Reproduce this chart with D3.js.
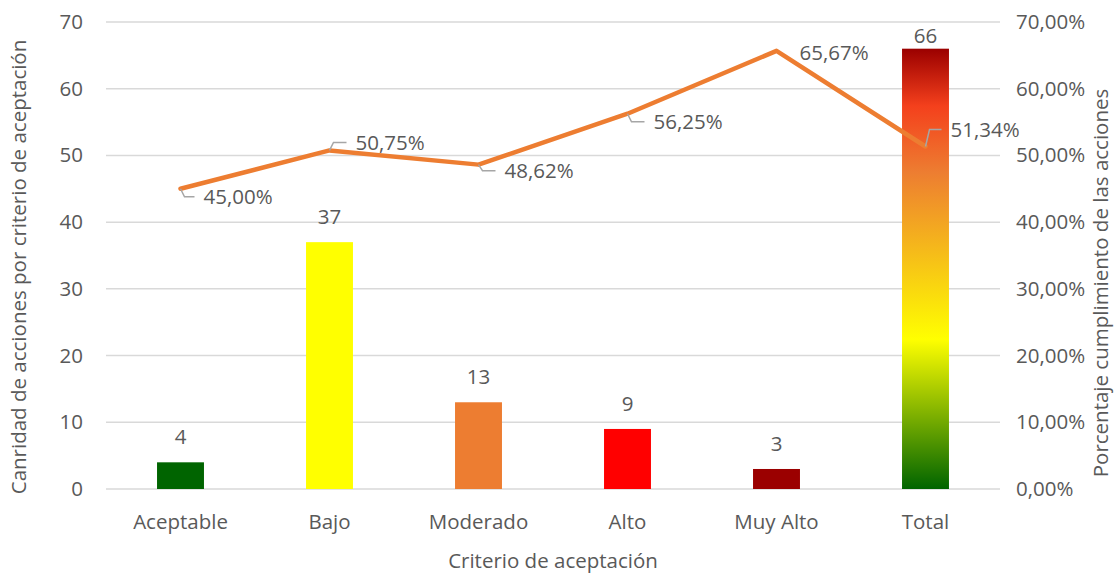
<html>
<head>
<script src="https://d3js.org/d3.v7.min.js"></script>
<style>
body { margin: 0; background: white; }
svg text { font-family: 'Open Sans', sans-serif; fill: #595959; }
</style>
</head>
<body>
<svg width="1114" height="573"></svg>
<script>
// data
const categories = ["Aceptable", "Bajo", "Moderado", "Alto", "Muy Alto", "Total"];
const cantidad = [4, 37, 13, 9, 3, 66];
const porcentaje = [45.00, 50.75, 48.62, 56.25, 65.67, 51.34];
const barColors = ["#006400", "#ffff00", "#ed7d31", "#ff0000", "#9b0000", "url(#totalGrad)"];
const leftTicks = [0, 10, 20, 30, 40, 50, 60, 70];
const rightTicks = [0, 10, 20, 30, 40, 50, 60, 70];

// label placement for the percent labels (dx to text start, dy to text middle)
const pctLabelOffset = [[23, 8], [26, -8], [26, 6], [26, 8], [23, 2], [25, -17]];
const hasLeader = [true, true, true, true, false, true];

const svg = d3.select("svg");
const mLeft = 106, mRight = 1000, mTop = 22, mBottom = 489;
const fs = 20.5;

const x = d3.scaleBand()
  .domain(categories)
  .range([mLeft, mRight])
  .paddingInner(0.685)
  .paddingOuter(0.3425);

const y = d3.scaleLinear().domain([0, 70]).range([mBottom, mTop]);
const y2 = d3.scaleLinear().domain([0, 70]).range([mBottom, mTop]);

// gradient for Total
const grad = svg.append("defs").append("linearGradient")
  .attr("id", "totalGrad")
  .attr("x1", 0).attr("y1", 0).attr("x2", 0).attr("y2", 1);
[[0, "#9b0000"], [0.13, "#f4401c"], [0.28, "#ed7d31"], [0.66, "#ffff00"], [1, "#006400"]]
  .forEach(s => grad.append("stop").attr("offset", s[0]).attr("stop-color", s[1]));

// gridlines
svg.append("g")
  .selectAll("line")
  .data(leftTicks)
  .enter()
  .append("line")
  .attr("x1", mLeft).attr("x2", mRight)
  .attr("y1", d => y(d)).attr("y2", d => y(d))
  .attr("stroke", "#d9d9d9")
  .attr("stroke-width", 1.5);

// left axis
const yAxis = svg.append("g")
  .attr("transform", `translate(${mLeft - 8},0)`)
  .call(d3.axisLeft(y).tickValues(leftTicks).tickSize(0).tickPadding(15));
yAxis.select(".domain").remove();
yAxis.selectAll("text").style("font-size", fs + "px").attr("fill", "#595959");

// right axis
const y2Axis = svg.append("g")
  .attr("transform", `translate(${mRight + 8},0)`)
  .call(d3.axisRight(y2).tickValues(rightTicks).tickSize(0).tickPadding(8)
    .tickFormat(d => d3.format(".2f")(d).replace(".", ",") + "%"));
y2Axis.select(".domain").remove();
y2Axis.selectAll("text").style("font-size", fs + "px").attr("fill", "#595959");

// x axis labels
const xAxis = svg.append("g")
  .attr("transform", `translate(0,${mBottom})`)
  .call(d3.axisBottom(x).tickSize(0).tickPadding(25));
xAxis.select(".domain").remove();
xAxis.selectAll("text").style("font-size", fs + "px").attr("fill", "#595959");

// bars
svg.append("g")
  .selectAll("rect")
  .data(cantidad)
  .enter()
  .append("rect")
  .attr("x", (d, i) => x(categories[i]))
  .attr("y", d => y(d))
  .attr("width", x.bandwidth())
  .attr("height", d => y(0) - y(d))
  .attr("fill", (d, i) => barColors[i]);

// bar value labels (kept inside the plot area at the top)
svg.append("g")
  .selectAll("text")
  .data(cantidad)
  .enter()
  .append("text")
  .attr("x", (d, i) => x(categories[i]) + x.bandwidth() / 2)
  .attr("y", d => Math.max(y(d) - 18, mTop + 21))
  .attr("text-anchor", "middle")
  .style("font-size", fs + "px")
  .text(d => d);

// line
const cx = i => x(categories[i]) + x.bandwidth() / 2;
const line = d3.line()
  .x((d, i) => cx(i))
  .y(d => y2(d));

svg.append("path")
  .datum(porcentaje)
  .attr("d", line)
  .attr("fill", "none")
  .attr("stroke", "#ed7d31")
  .attr("stroke-width", 4.5)
  .attr("stroke-linejoin", "round")
  .attr("stroke-linecap", "round");

// leader lines + percent labels
porcentaje.forEach((v, i) => {
  const px = cx(i), py = y2(v);
  const tx = px + pctLabelOffset[i][0], ty = py + pctLabelOffset[i][1];
  if (hasLeader[i]) {
    svg.append("polyline")
      .attr("points", `${px},${py} ${px + 4},${ty} ${tx - 9},${ty}`)
      .attr("fill", "none")
      .attr("stroke", "#a6a6a6")
      .attr("stroke-width", 1.5);
  }
  svg.append("text")
    .attr("x", tx)
    .attr("y", ty)
    .attr("dy", "0.35em")
    .style("font-size", fs + "px")
    .text(d3.format(".2f")(v).replace(".", ",") + "%");
});

// axis titles
svg.append("text")
  .attr("transform", "translate(26,267) rotate(-90)")
  .attr("text-anchor", "middle")
  .style("font-size", fs + "px")
  .text("Canridad de acciones por criterio de aceptación");

svg.append("text")
  .attr("transform", "translate(1108,283) rotate(-90)")
  .attr("text-anchor", "middle")
  .style("font-size", fs + "px")
  .text("Porcentaje cumplimiento de las acciones");

svg.append("text")
  .attr("x", (mLeft + mRight) / 2)
  .attr("y", 568)
  .attr("text-anchor", "middle")
  .style("font-size", fs + "px")
  .text("Criterio de aceptación");
</script>
</body>
</html>
